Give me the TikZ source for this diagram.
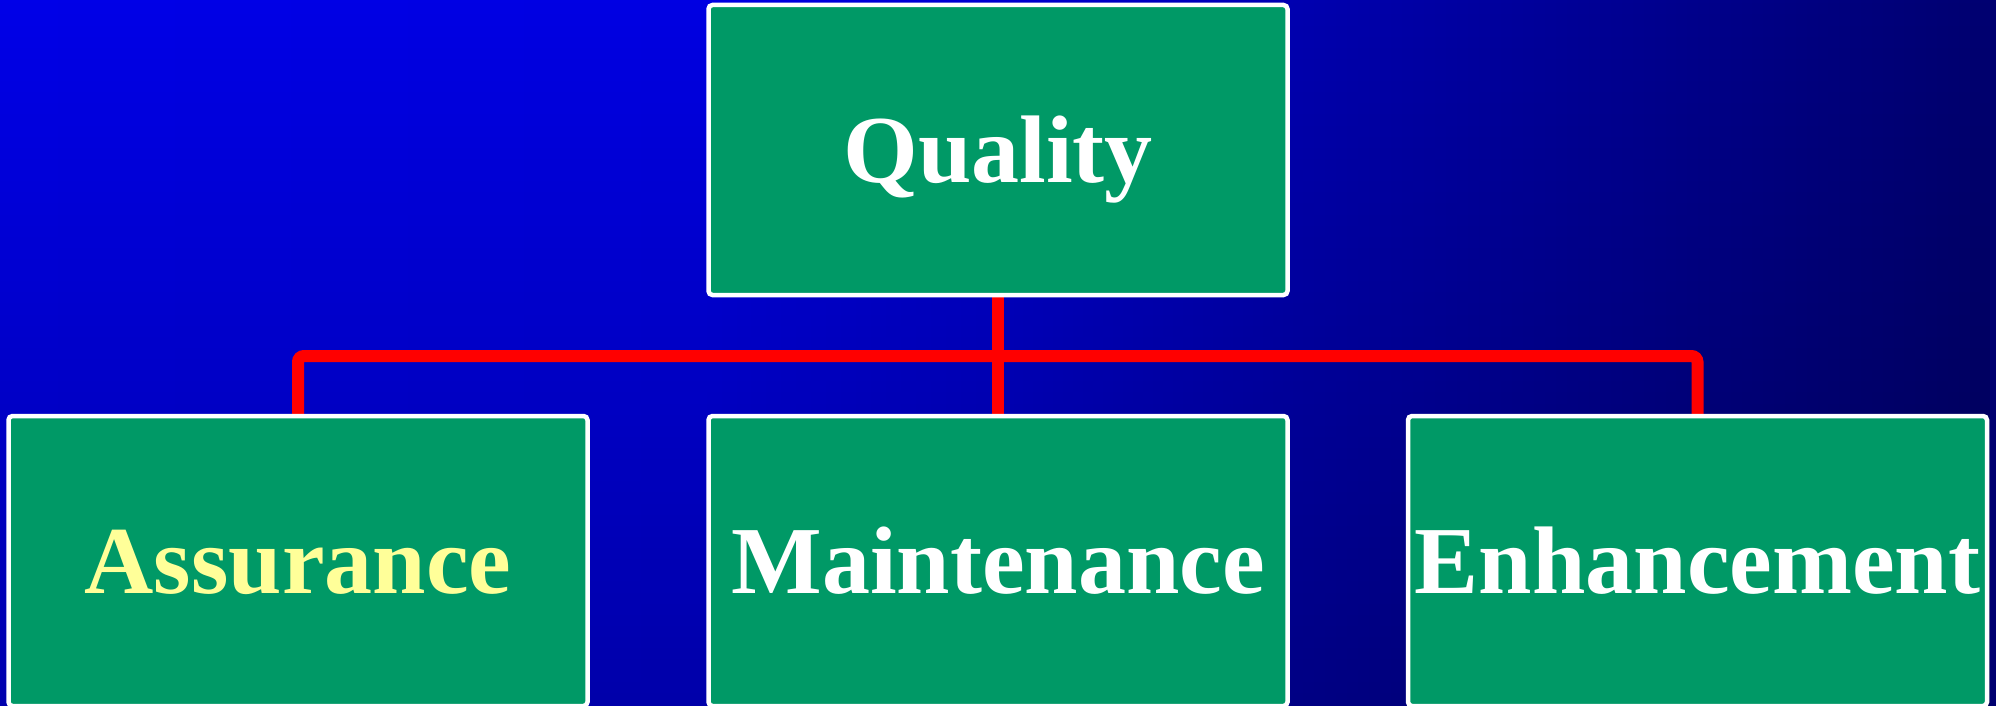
\documentclass[tikz,border=0pt]{standalone}
\usepackage{fontspec}
\setmainfont{Liberation Serif}
\usetikzlibrary{fadings}

\definecolor{slideTop}{RGB}{0,0,232}
\definecolor{slideMidA}{RGB}{0,0,226}
\definecolor{slideMidB}{RGB}{0,0,206}
\definecolor{slideMidC}{RGB}{0,0,176}
\definecolor{slideMidD}{RGB}{0,0,144}
\definecolor{slideEnd}{RGB}{0,0,112}
\definecolor{boxgreen}{RGB}{0,153,102}
\definecolor{paleyellow}{RGB}{255,255,153}
\definecolor{wirered}{RGB}{255,0,0}

% left-to-right backdrop; the path is mapped onto the 25bp--75bp band
\pgfdeclarehorizontalshading{slidebg}{100bp}{%
  color(0bp)=(slideTop); color(25bp)=(slideTop); color(42.5bp)=(slideMidA);
  color(50bp)=(slideMidB); color(57.5bp)=(slideMidC); color(66.3bp)=(slideMidD);
  color(75bp)=(slideEnd); color(100bp)=(slideEnd)}

\pgfdeclarelayer{bg}
\pgfdeclarelayer{wires}
\pgfsetlayers{bg,wires,main}

\tikzset{
  topic/.style={draw=white, line width=4.5pt, fill=boxgreen, rounded corners=4pt,
    minimum width=579pt, minimum height=290pt, inner sep=0pt,
    text height=64pt, text depth=0pt, text=white,
    font=\fontsize{96}{110}\selectfont\bfseries},
  wire/.style={draw=wirered, line width=12pt, rounded corners=6pt}
}

\begin{document}
\begin{tikzpicture}[x=1pt,y=-1pt]
  \useasboundingbox (0,0) rectangle (1996,706);

  % gradient backdrop, darkening slightly toward the bottom
  \begin{pgfonlayer}{bg}
    \shade[shading=slidebg] (0,0) rectangle (1996,706);
    \fill[black, path fading=north, fill opacity=0.25] (0,0) rectangle (1996,706);
  \end{pgfonlayer}

  % the four boxes
  \node[topic] (q) at (998,150) {Quality};
  \node[topic, text=paleyellow] (a) at (298,561) {Assurance};
  \node[topic] (m) at (998,561) {Maintenance};
  \node[topic] (e) at (1697.5,561) {Enhancement};

  % red connectors behind the boxes
  \coordinate (bus) at (998,356);
  \begin{pgfonlayer}{wires}
    \draw[wire] (q.south) -- (m.north);
    \draw[wire] (a.north) |- (bus) -| (e.north);
  \end{pgfonlayer}
\end{tikzpicture}
\end{document}
